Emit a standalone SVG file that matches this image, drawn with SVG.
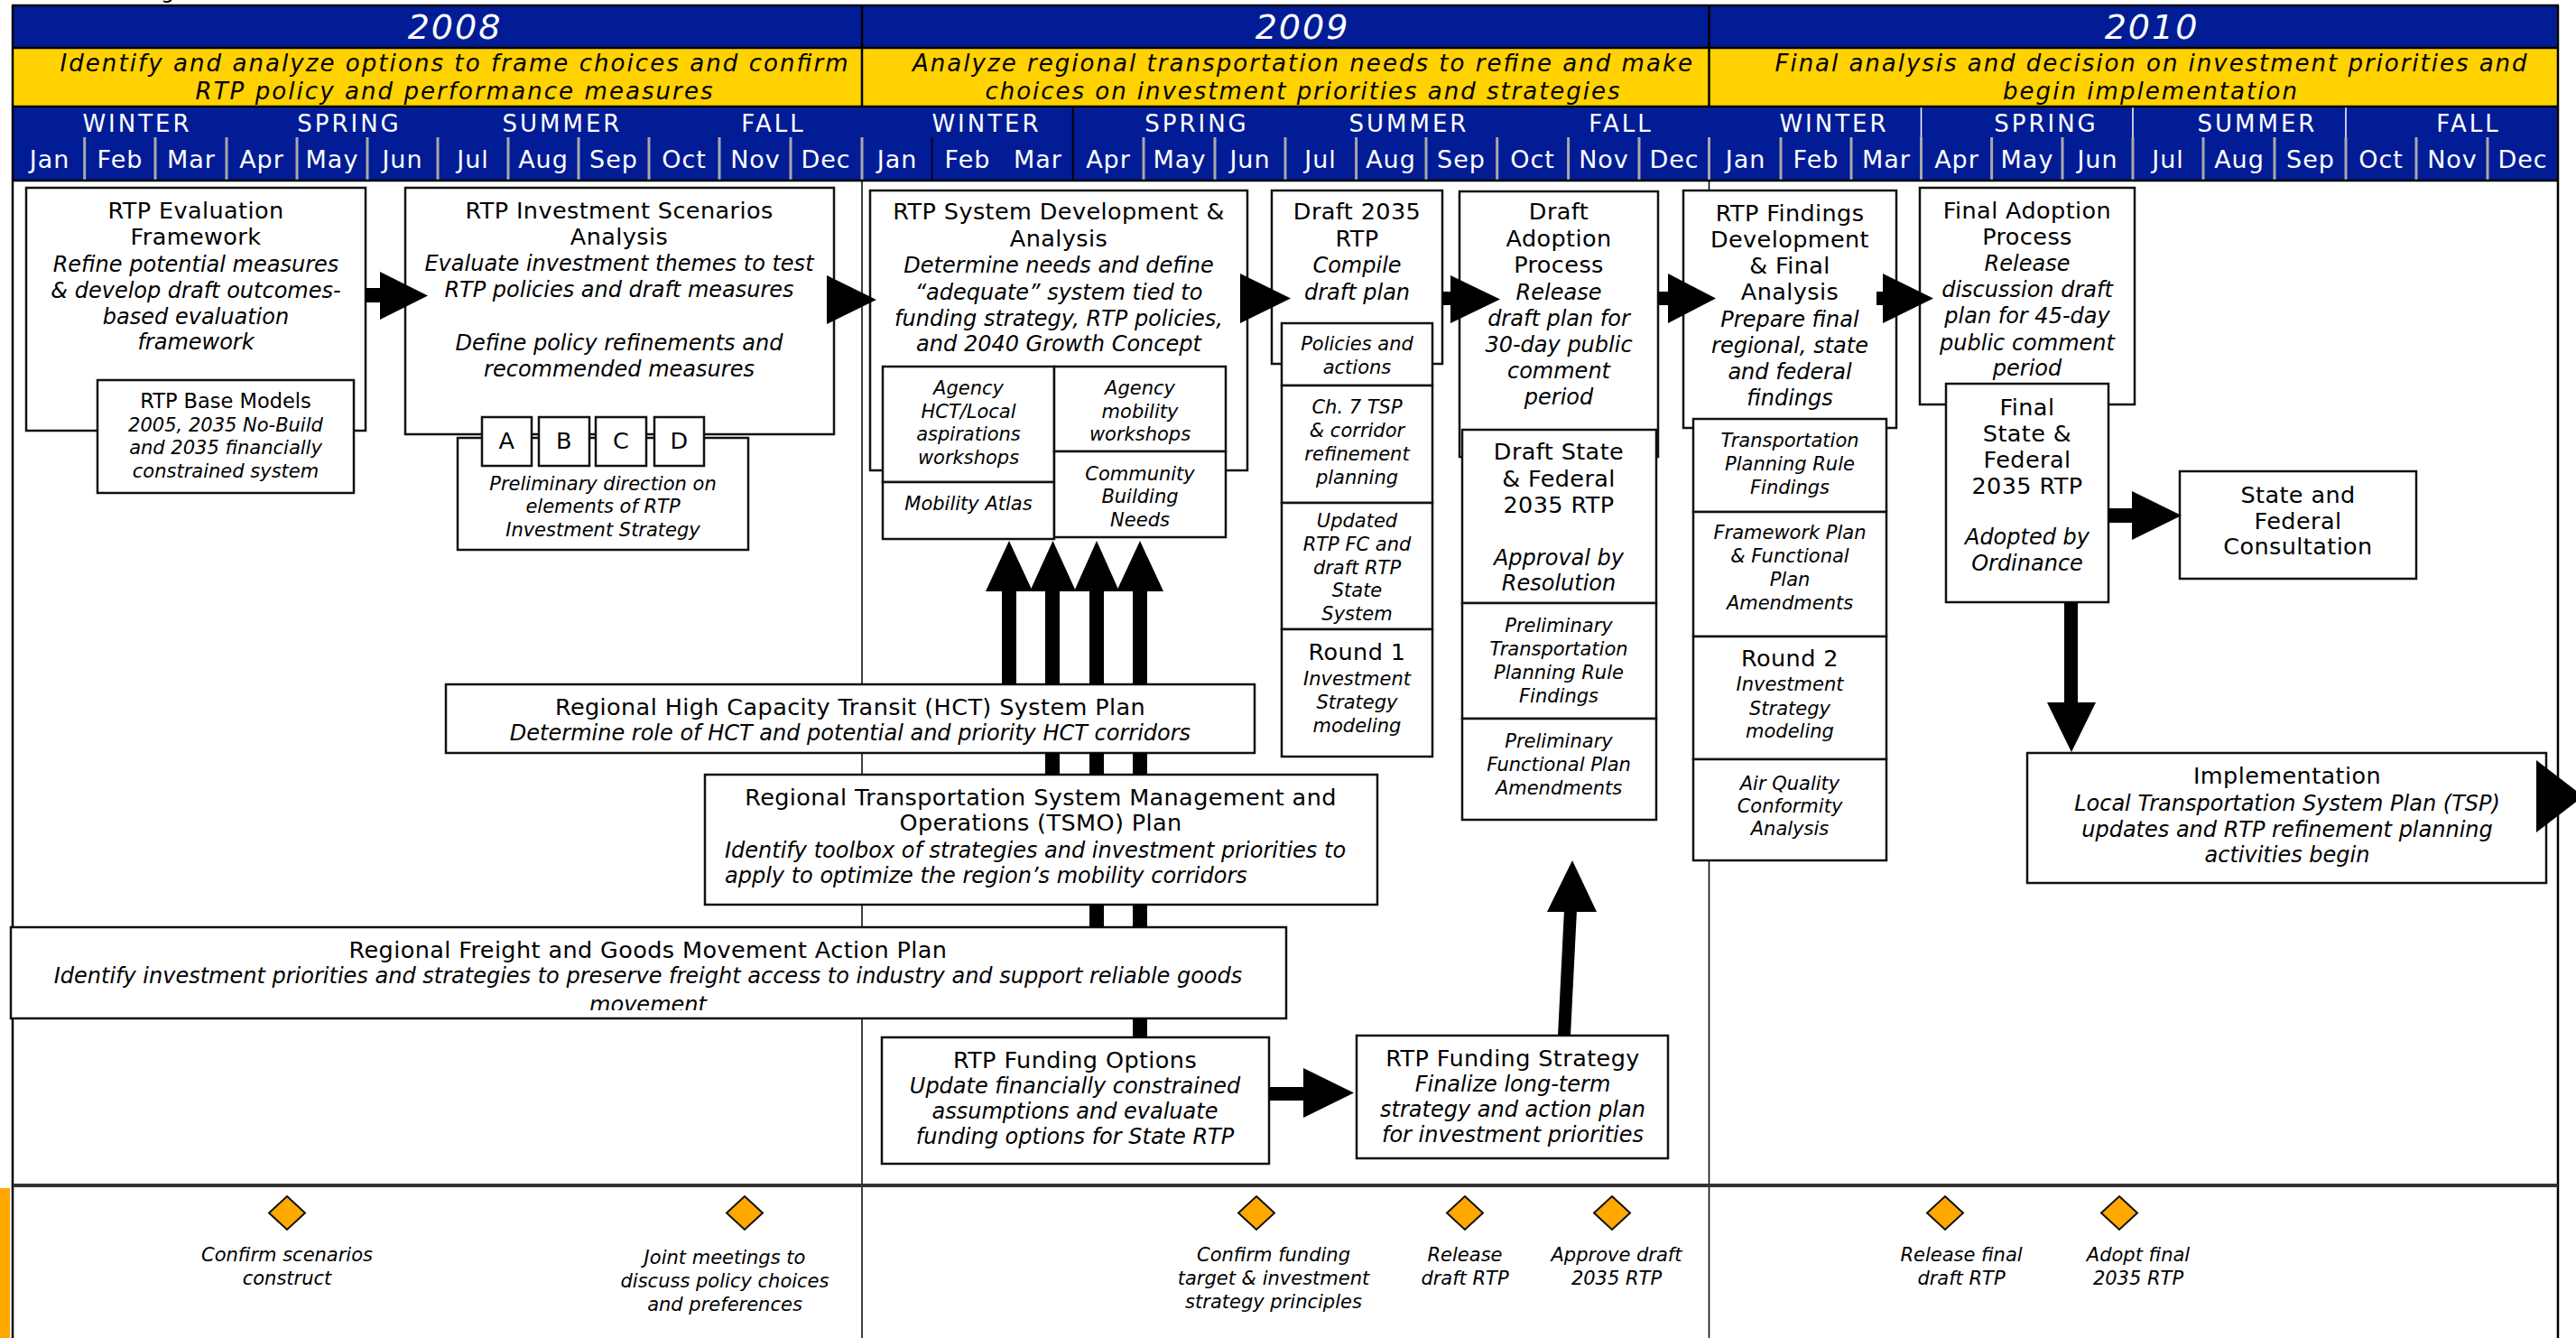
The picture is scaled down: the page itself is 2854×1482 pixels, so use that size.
<svg xmlns="http://www.w3.org/2000/svg" width="2854" height="1482" viewBox="0 0 2854 1482">
<defs>
<style>
.box{fill:#fff;stroke:#111;stroke-width:2.5}
text{font-family:"DejaVu Sans","Liberation Sans",sans-serif;fill:#000}
.c{text-anchor:middle}
.r{font-size:25.5px;letter-spacing:0.4px;text-anchor:middle}
.it{font-size:24px;font-style:italic;text-anchor:middle}
.sr{font-size:22.5px;text-anchor:middle}
.si{font-size:21px;font-style:italic;text-anchor:middle}
.ms{font-size:21px;font-style:italic;text-anchor:middle}
.yr{font-size:38px;font-style:italic;fill:#fff;text-anchor:middle;letter-spacing:2px}
.yl{font-size:26px;font-style:italic;text-anchor:middle}
.ss{font-size:26px;fill:#fff;text-anchor:middle;letter-spacing:3px}
.mo{font-size:27px;fill:#fff;text-anchor:middle;letter-spacing:1px}
.gs{stroke:#a9a9a9;stroke-width:3}
.bl{stroke:#000;stroke-width:2.5}
.arr{fill:#000}
.sh{stroke:#000;stroke-width:16;fill:none}
.dia{fill:#ffa800;stroke:#111;stroke-width:2}
</style>
<clipPath id="cf"><rect x="12" y="1027" width="1413" height="92"/></clipPath>
</defs>
<rect x="0" y="0" width="2854" height="1482" fill="#fff"/>
<text x="178" y="-2" style="font-size:24px">g</text>

<g id="header">
<rect x="14" y="6" width="2820" height="47" fill="#021c96"/>
<rect x="14" y="53" width="2820" height="65" fill="#ffd200"/>
<rect x="14" y="118" width="2820" height="82" fill="#021c96"/>
<g class="gs">
<line x1="93.7" y1="152" x2="93.7" y2="199"/><line x1="172" y1="152" x2="172" y2="199"/><line x1="251" y1="152" x2="251" y2="199"/><line x1="329" y1="152" x2="329" y2="199"/><line x1="407" y1="152" x2="407" y2="199"/><line x1="485" y1="152" x2="485" y2="199"/><line x1="563" y1="152" x2="563" y2="199"/><line x1="641" y1="152" x2="641" y2="199"/><line x1="719" y1="152" x2="719" y2="199"/><line x1="797" y1="152" x2="797" y2="199"/><line x1="876" y1="152" x2="876" y2="199"/><line x1="955" y1="152" x2="955" y2="199"/>
<line x1="1267" y1="152" x2="1267" y2="199"/><line x1="1346" y1="152" x2="1346" y2="199"/><line x1="1424" y1="152" x2="1424" y2="199"/><line x1="1502.6" y1="152" x2="1502.6" y2="199"/><line x1="1580" y1="152" x2="1580" y2="199"/><line x1="1658.7" y1="152" x2="1658.7" y2="199"/><line x1="1737.6" y1="152" x2="1737.6" y2="199"/><line x1="1816" y1="152" x2="1816" y2="199"/><line x1="1893.5" y1="152" x2="1893.5" y2="199"/>
<line x1="1973" y1="152" x2="1973" y2="199"/><line x1="2051" y1="152" x2="2051" y2="199"/><line x1="2128.5" y1="152" x2="2128.5" y2="199"/><line x1="2206.6" y1="152" x2="2206.6" y2="199"/><line x1="2285" y1="152" x2="2285" y2="199"/><line x1="2363" y1="152" x2="2363" y2="199"/><line x1="2441" y1="152" x2="2441" y2="199"/><line x1="2520" y1="152" x2="2520" y2="199"/><line x1="2599" y1="152" x2="2599" y2="199"/><line x1="2677" y1="152" x2="2677" y2="199"/><line x1="2756" y1="152" x2="2756" y2="199"/>
</g>
<line x1="1032.6" y1="152" x2="1032.6" y2="199" stroke="#000" stroke-width="1.5"/>
<line x1="1188.7" y1="118" x2="1188.7" y2="199" stroke="#000" stroke-width="2"/>
<g stroke="#fff" stroke-width="1.5">
<line x1="2128.5" y1="118" x2="2128.5" y2="152"/><line x1="2363" y1="118" x2="2363" y2="152"/><line x1="2599" y1="118" x2="2599" y2="152"/>
</g>
<g class="bl">
<line x1="13" y1="6" x2="2835" y2="6"/><line x1="13" y1="53" x2="2835" y2="53"/><line x1="13" y1="118" x2="2835" y2="118"/><line x1="13" y1="200" x2="2835" y2="200"/>
<line x1="14" y1="6" x2="14" y2="200"/><line x1="2834" y1="6" x2="2834" y2="200"/>
<line x1="955" y1="6" x2="955" y2="118"/><line x1="1893.5" y1="6" x2="1893.5" y2="118"/>
</g>
<text class="yr" x="504" y="43">2008</text>
<text class="yr" x="1443" y="43">2009</text>
<text class="yr" x="2384" y="43">2010</text>
<text class="yl" x="503" y="79" textLength="873">Identify and analyze options to frame choices and confirm</text>
<text class="yl" x="503" y="110" textLength="573">RTP policy and performance measures</text>
<text class="yl" x="1443" y="79" textLength="864">Analyze regional transportation needs to refine and make</text>
<text class="yl" x="1443" y="110" textLength="703">choices on investment priorities and strategies</text>
<text class="yl" x="2383" y="79" textLength="833">Final analysis and decision on investment priorities and</text>
<text class="yl" x="2382" y="110" textLength="326">begin implementation</text>
<text class="ss" x="152" y="146">WINTER</text><text class="ss" x="387" y="146">SPRING</text><text class="ss" x="623" y="146">SUMMER</text><text class="ss" x="857" y="146">FALL</text>
<text class="ss" x="1093" y="146">WINTER</text><text class="ss" x="1326" y="146">SPRING</text><text class="ss" x="1561" y="146">SUMMER</text><text class="ss" x="1796" y="146">FALL</text>
<text class="ss" x="2032" y="146">WINTER</text><text class="ss" x="2267" y="146">SPRING</text><text class="ss" x="2501" y="146">SUMMER</text><text class="ss" x="2735" y="146">FALL</text>
<text class="mo" x="55" y="186">Jan</text><text class="mo" x="133" y="186">Feb</text><text class="mo" x="212" y="186">Mar</text><text class="mo" x="290" y="186">Apr</text><text class="mo" x="368" y="186">May</text><text class="mo" x="446" y="186">Jun</text><text class="mo" x="524" y="186">Jul</text><text class="mo" x="602" y="186">Aug</text><text class="mo" x="680" y="186">Sep</text><text class="mo" x="758" y="186">Oct</text><text class="mo" x="837" y="186">Nov</text><text class="mo" x="915" y="186">Dec</text>
<text class="mo" x="994" y="186">Jan</text><text class="mo" x="1072" y="186">Feb</text><text class="mo" x="1150" y="186">Mar</text><text class="mo" x="1228" y="186">Apr</text><text class="mo" x="1307" y="186">May</text><text class="mo" x="1385" y="186">Jun</text><text class="mo" x="1463" y="186">Jul</text><text class="mo" x="1541" y="186">Aug</text><text class="mo" x="1619" y="186">Sep</text><text class="mo" x="1698" y="186">Oct</text><text class="mo" x="1777" y="186">Nov</text><text class="mo" x="1855" y="186">Dec</text>
<text class="mo" x="1934" y="186">Jan</text><text class="mo" x="2012" y="186">Feb</text><text class="mo" x="2090" y="186">Mar</text><text class="mo" x="2168" y="186">Apr</text><text class="mo" x="2246" y="186">May</text><text class="mo" x="2324" y="186">Jun</text><text class="mo" x="2402" y="186">Jul</text><text class="mo" x="2481" y="186">Aug</text><text class="mo" x="2560" y="186">Sep</text><text class="mo" x="2638" y="186">Oct</text><text class="mo" x="2717" y="186">Nov</text><text class="mo" x="2795" y="186">Dec</text>
</g>

<g id="frame" stroke="#000">
<line x1="14" y1="200" x2="14" y2="1482" stroke-width="2.5"/>
<line x1="2834" y1="200" x2="2834" y2="1482" stroke-width="2.5"/>
<line x1="955" y1="200" x2="955" y2="1482" stroke-width="1.5"/>
<line x1="1893.5" y1="200" x2="1893.5" y2="1482" stroke-width="1.5"/>
<line x1="14" y1="1313" x2="2834" y2="1313" stroke="#333" stroke-width="4"/>
<rect x="0" y="1316" width="11" height="166" fill="#ffa800" stroke="none"/>
</g>

<g id="n-eval"><rect class="box" x="29" y="208" width="376" height="269"/>
<text class="r" x="217" y="242">RTP Evaluation</text><text class="r" x="217" y="271">Framework</text>
<text class="it" x="217" y="301">Refine potential measures</text><text class="it" x="217" y="330">&amp; develop draft outcomes-</text><text class="it" x="217" y="359">based evaluation</text><text class="it" x="217" y="387">framework</text></g>
<g id="n-base"><rect class="box" x="108" y="421" width="284" height="125"/>
<text class="sr" x="250" y="452">RTP Base Models</text><text class="si" x="250" y="478">2005, 2035 No-Build</text><text class="si" x="250" y="503">and 2035 financially</text><text class="si" x="250" y="529">constrained system</text></g>

<g id="n-scen"><rect class="box" x="449" y="208" width="475" height="273"/>
<text class="r" x="686" y="242">RTP Investment Scenarios</text><text class="r" x="686" y="271">Analysis</text>
<text class="it" x="686" y="300">Evaluate investment themes to test</text><text class="it" x="686" y="329">RTP policies and draft measures</text>
<text class="it" x="686" y="388">Define policy refinements and</text><text class="it" x="686" y="417">recommended measures</text></g>
<g id="n-prelim"><rect class="box" x="507" y="485" width="322" height="124"/>
<text class="si" x="668" y="543">Preliminary direction on</text><text class="si" x="668" y="568">elements of RTP</text><text class="si" x="668" y="594">Investment Strategy</text></g>
<g id="n-a"><rect class="box" x="534" y="462" width="55" height="54"/><text class="r" x="561.5" y="497">A</text></g>
<g id="n-b"><rect class="box" x="597" y="462" width="56" height="54"/><text class="r" x="625" y="497">B</text></g>
<g id="n-c"><rect class="box" x="660" y="462" width="56" height="54"/><text class="r" x="688" y="497">C</text></g>
<g id="n-d"><rect class="box" x="725" y="462" width="55" height="54"/><text class="r" x="752.5" y="497">D</text></g>

<g id="n-sysdev"><rect class="box" x="964" y="211" width="418" height="310"/>
<text class="r" x="1173" y="243">RTP System Development &amp;</text><text class="r" x="1173" y="273">Analysis</text>
<text class="it" x="1173" y="302">Determine needs and define</text><text class="it" x="1173" y="332">“adequate” system tied to</text><text class="it" x="1173" y="361">funding strategy, RTP policies,</text><text class="it" x="1173" y="389">and 2040 Growth Concept</text></g>
<g id="n-hctlocal"><rect class="box" x="978" y="406" width="190" height="128"/>
<text class="si" x="1073" y="437">Agency</text><text class="si" x="1073" y="463">HCT/Local</text><text class="si" x="1073" y="488">aspirations</text><text class="si" x="1073" y="514">workshops</text></g>
<g id="n-atlas"><rect class="box" x="978" y="534" width="190" height="63"/><text class="si" x="1073" y="565">Mobility Atlas</text></g>
<g id="n-mobws"><rect class="box" x="1168" y="406" width="190" height="94"/>
<text class="si" x="1263" y="437">Agency</text><text class="si" x="1263" y="463">mobility</text><text class="si" x="1263" y="488">workshops</text></g>
<g id="n-community"><rect class="box" x="1168" y="500" width="190" height="95"/>
<text class="si" x="1263" y="532">Community</text><text class="si" x="1263" y="557">Building</text><text class="si" x="1263" y="583">Needs</text></g>

<g id="n-draft2035"><rect class="box" x="1409" y="211" width="189" height="192"/>
<text class="r" x="1503.5" y="243">Draft 2035</text><text class="r" x="1503.5" y="273">RTP</text><text class="it" x="1503.5" y="302">Compile</text><text class="it" x="1503.5" y="332">draft plan</text></g>
<g id="n-policies"><rect class="box" x="1420" y="358" width="167" height="69"/>
<text class="si" x="1503.5" y="388">Policies and</text><text class="si" x="1503.5" y="414">actions</text></g>
<g id="n-ch7"><rect class="box" x="1420" y="427" width="167" height="130"/>
<text class="si" x="1503.5" y="458">Ch. 7 TSP</text><text class="si" x="1503.5" y="484">&amp; corridor</text><text class="si" x="1503.5" y="510">refinement</text><text class="si" x="1503.5" y="536">planning</text></g>
<g id="n-updated"><rect class="box" x="1420" y="557" width="167" height="140"/>
<text class="si" x="1503.5" y="584">Updated</text><text class="si" x="1503.5" y="610">RTP FC and</text><text class="si" x="1503.5" y="636">draft RTP</text><text class="si" x="1503.5" y="661">State</text><text class="si" x="1503.5" y="687">System</text></g>
<g id="n-round1"><rect class="box" x="1420" y="697" width="167" height="141"/>
<text class="r" x="1503.5" y="731">Round 1</text><text class="si" x="1503.5" y="759">Investment</text><text class="si" x="1503.5" y="785">Strategy</text><text class="si" x="1503.5" y="811">modeling</text></g>

<g id="n-draftadopt"><rect class="box" x="1617" y="212" width="220" height="294"/>
<text class="r" x="1727" y="243">Draft</text><text class="r" x="1727" y="273">Adoption</text><text class="r" x="1727" y="302">Process</text>
<text class="it" x="1727" y="332">Release</text><text class="it" x="1727" y="361">draft plan for</text><text class="it" x="1727" y="390">30-day public</text><text class="it" x="1727" y="419">comment</text><text class="it" x="1727" y="448">period</text></g>
<g id="n-draftstate"><rect class="box" x="1620" y="476" width="215" height="192"/>
<text class="r" x="1727" y="509">Draft State</text><text class="r" x="1727" y="539">&amp; Federal</text><text class="r" x="1727" y="568">2035 RTP</text>
<text class="it" x="1727" y="626">Approval by</text><text class="it" x="1727" y="654">Resolution</text></g>
<g id="n-prelimtpr"><rect class="box" x="1620" y="668" width="215" height="128"/>
<text class="si" x="1727" y="700">Preliminary</text><text class="si" x="1727" y="726">Transportation</text><text class="si" x="1727" y="752">Planning Rule</text><text class="si" x="1727" y="778">Findings</text></g>
<g id="n-prelimfp"><rect class="box" x="1620" y="796" width="215" height="112"/>
<text class="si" x="1727" y="828">Preliminary</text><text class="si" x="1727" y="854">Functional Plan</text><text class="si" x="1727" y="880">Amendments</text></g>

<g id="n-findings"><rect class="box" x="1865" y="211" width="236" height="263"/>
<text class="r" x="1983" y="245">RTP Findings</text><text class="r" x="1983" y="274">Development</text><text class="r" x="1983" y="303">&amp; Final</text><text class="r" x="1983" y="332">Analysis</text>
<text class="it" x="1983" y="362">Prepare final</text><text class="it" x="1983" y="391">regional, state</text><text class="it" x="1983" y="420">and federal</text><text class="it" x="1983" y="449">findings</text></g>
<g id="n-tprfind"><rect class="box" x="1876" y="464" width="214" height="103"/>
<text class="si" x="1983" y="495">Transportation</text><text class="si" x="1983" y="521">Planning Rule</text><text class="si" x="1983" y="547">Findings</text></g>
<g id="n-framework"><rect class="box" x="1876" y="567" width="214" height="138"/>
<text class="si" x="1983" y="597">Framework Plan</text><text class="si" x="1983" y="623">&amp; Functional</text><text class="si" x="1983" y="649">Plan</text><text class="si" x="1983" y="675">Amendments</text></g>
<g id="n-round2"><rect class="box" x="1876" y="705" width="214" height="136"/>
<text class="r" x="1983" y="738">Round 2</text><text class="si" x="1983" y="765">Investment</text><text class="si" x="1983" y="792">Strategy</text><text class="si" x="1983" y="817">modeling</text></g>
<g id="n-airq"><rect class="box" x="1876" y="841" width="214" height="112"/>
<text class="si" x="1983" y="875">Air Quality</text><text class="si" x="1983" y="900">Conformity</text><text class="si" x="1983" y="925">Analysis</text></g>

<g id="n-finaladopt"><rect class="box" x="2127" y="208" width="238" height="240"/>
<text class="r" x="2246" y="242">Final Adoption</text><text class="r" x="2246" y="271">Process</text>
<text class="it" x="2246" y="300">Release</text><text class="it" x="2246" y="329">discussion draft</text><text class="it" x="2246" y="358">plan for 45-day</text><text class="it" x="2246" y="388">public comment</text><text class="it" x="2246" y="416">period</text></g>
<g id="n-finalstate"><rect class="box" x="2156" y="425" width="180" height="242"/>
<text class="r" x="2246" y="460">Final</text><text class="r" x="2246" y="489">State &amp;</text><text class="r" x="2246" y="518">Federal</text><text class="r" x="2246" y="547">2035 RTP</text>
<text class="it" x="2246" y="603">Adopted by</text><text class="it" x="2246" y="632">Ordinance</text></g>
<g id="n-consult"><rect class="box" x="2415" y="522" width="262" height="119"/>
<text class="r" x="2546" y="557">State and</text><text class="r" x="2546" y="586">Federal</text><text class="r" x="2546" y="614">Consultation</text></g>
<g id="n-impl"><rect class="box" x="2246" y="834" width="575" height="144"/>
<text class="r" x="2534" y="868">Implementation</text><text class="it" x="2534" y="898">Local Transportation System Plan (TSP)</text><text class="it" x="2534" y="927">updates and RTP refinement planning</text><text class="it" x="2534" y="955">activities begin</text></g>

<g id="n-hct"><rect class="box" x="494" y="758" width="896" height="76"/>
<text class="r" x="942" y="792">Regional High Capacity Transit (HCT) System Plan</text>
<text class="it" x="942" y="820">Determine role of HCT and potential and priority HCT corridors</text></g>
<g id="n-tsmo"><rect class="box" x="781" y="858" width="745" height="144"/>
<text class="r" x="1153" y="892">Regional Transportation System Management and</text><text class="r" x="1153" y="920">Operations (TSMO) Plan</text>
<text x="803" y="950" style="font-size:24px;font-style:italic">Identify toolbox of strategies and investment priorities to</text>
<text x="803" y="978" style="font-size:24px;font-style:italic">apply to optimize the region’s mobility corridors</text></g>
<g id="n-freight"><rect class="box" x="12" y="1027" width="1413" height="101"/>
<text class="r" x="718" y="1061">Regional Freight and Goods Movement Action Plan</text>
<text class="it" x="718" y="1089">Identify investment priorities and strategies to preserve freight access to industry and support reliable goods</text>
<text class="it" x="718" y="1121" clip-path="url(#cf)">movement</text></g>
<g id="n-fundopt"><rect class="box" x="977" y="1149" width="429" height="140"/>
<text class="r" x="1191" y="1183">RTP Funding Options</text><text class="it" x="1191" y="1211">Update financially constrained</text><text class="it" x="1191" y="1239">assumptions and evaluate</text><text class="it" x="1191" y="1267">funding options for State RTP</text></g>
<g id="n-fundstrat"><rect class="box" x="1503" y="1147" width="345" height="136"/>
<text class="r" x="1676" y="1181">RTP Funding Strategy</text><text class="it" x="1676" y="1209">Finalize long-term</text><text class="it" x="1676" y="1237">strategy and action plan</text><text class="it" x="1676" y="1265">for investment priorities</text></g>

<g id="milestones">
<polygon class="dia" points="318,1325 338,1343.5 318,1362 298,1343.5"/>
<polygon class="dia" points="825,1325 845,1343.5 825,1362 805,1343.5"/>
<polygon class="dia" points="1392,1325 1412,1343.5 1392,1362 1372,1343.5"/>
<polygon class="dia" points="1623,1325 1643,1343.5 1623,1362 1603,1343.5"/>
<polygon class="dia" points="1786,1325 1806,1343.5 1786,1362 1766,1343.5"/>
<polygon class="dia" points="2155,1325 2175,1343.5 2155,1362 2135,1343.5"/>
<polygon class="dia" points="2348,1325 2368,1343.5 2348,1362 2328,1343.5"/>
<text class="ms" x="318" y="1397">Confirm scenarios</text><text class="ms" x="318" y="1423">construct</text>
<text class="ms" x="803" y="1400">Joint meetings to</text><text class="ms" x="803" y="1426">discuss policy choices</text><text class="ms" x="803" y="1452">and preferences</text>
<text class="ms" x="1411" y="1397">Confirm funding</text><text class="ms" x="1411" y="1423">target &amp; investment</text><text class="ms" x="1411" y="1449">strategy principles</text>
<text class="ms" x="1623" y="1397">Release</text><text class="ms" x="1623" y="1423">draft RTP</text>
<text class="ms" x="1791" y="1397">Approve draft</text><text class="ms" x="1791" y="1423">2035 RTP</text>
<text class="ms" x="2173" y="1397">Release final</text><text class="ms" x="2173" y="1423">draft RTP</text>
<text class="ms" x="2369" y="1397">Adopt final</text><text class="ms" x="2369" y="1423">2035 RTP</text>
</g>

<g id="connectors">
<rect class="arr" x="405" y="319" width="17" height="16"/>
<polygon class="arr" points="421,301 474,327.5 421,354"/>
<polygon class="arr" points="916,305 971,332 916,359"/>
<polygon class="arr" points="1374,303 1430,330.5 1374,358"/>
<rect class="arr" x="1598" y="323" width="10" height="15"/>
<polygon class="arr" points="1607,305 1662,331.5 1607,358"/>
<rect class="arr" x="1837" y="323" width="12" height="15"/>
<polygon class="arr" points="1848,303 1901,330.5 1848,358"/>
<rect class="arr" x="2079" y="323" width="9" height="15"/>
<polygon class="arr" points="2086,303 2142,330.5 2086,358"/>
<rect class="arr" x="2336" y="563" width="27" height="16"/>
<polygon class="arr" points="2362,544 2417,571 2362,598"/>
<rect class="arr" x="2287" y="667" width="15" height="112"/>
<polygon class="arr" points="2268,778 2295,833 2322,778"/>
<polygon class="arr" points="2810,842 2862,882 2810,922"/>
<path class="sh" d="M1118 758V653"/>
<path class="sh" d="M1166 653V758M1166 834V858"/>
<path class="sh" d="M1215 653V758M1215 834V858M1215 1002V1027"/>
<path class="sh" d="M1263 653V758M1263 834V858M1263 1002V1027M1263 1128V1149"/>
<polygon class="arr" points="1092,655 1118,599 1144,655"/>
<polygon class="arr" points="1141,655 1166.5,599 1192,655"/>
<polygon class="arr" points="1190,655 1215,599 1240,655"/>
<polygon class="arr" points="1237,655 1263,599 1289,655"/>
<rect class="arr" x="1406" y="1204" width="42" height="15"/>
<polygon class="arr" points="1444,1183 1500,1210.5 1444,1238"/>
<line x1="1733" y1="1147" x2="1740" y2="1008" stroke="#000" stroke-width="14"/>
<polygon class="arr" points="1714,1010 1742,953 1769,1010"/>
</g>
</svg>
